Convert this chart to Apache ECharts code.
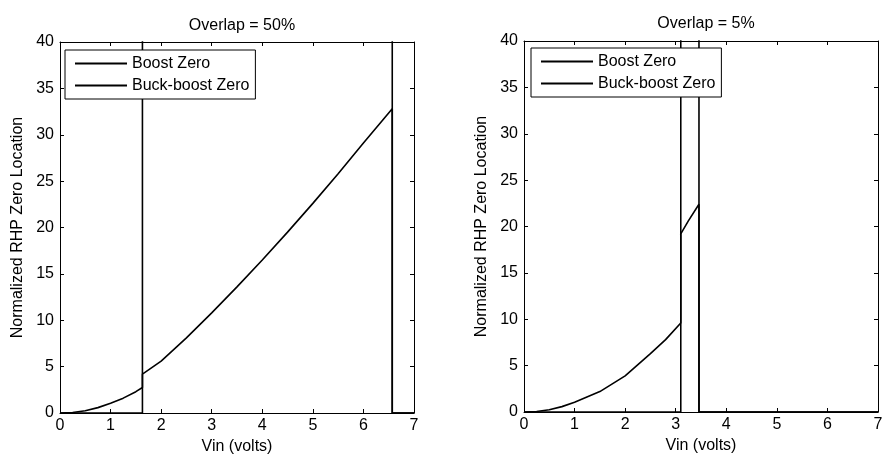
<!DOCTYPE html>
<html>
<head>
<meta charset="utf-8">
<script src="https://cdn.jsdelivr.net/npm/echarts@6/dist/echarts.min.js"></script>
<style>
  html, body { margin: 0; padding: 0; background: #fff; }
  #chart { width: 886px; height: 455px; }
</style>
</head>
<body>
<div id="chart"></div>
<script>
// values; OFF stands for "above the plot" (clipped at 40)
const OFF = 60

// Overlap = 50%
const boost50 = [
  [0, 0], [0.25, 0.05], [0.5, 0.25], [0.75, 0.58], [1, 1.05], [1.25, 1.6],
  [1.5, 2.3], [1.63, 2.75], [1.63, OFF], [6.57, OFF], [6.57, 0], [7, 0]
]
const buckBoost50 = [
  [0, 0], [1.63, 0], [1.63, 4.2], [2, 5.6], [2.5, 8.1], [3, 10.8], [3.5, 13.6],
  [4, 16.5], [4.5, 19.5], [5, 22.6], [5.5, 25.8], [6, 29.1], [6.57, 32.8],
  [6.57, 0], [7, 0]
]

// Overlap = 5%
const boost5 = [
  [0, 0], [0.25, 0.05], [0.5, 0.25], [0.75, 0.58], [1, 1.04], [1.5, 2.2],
  [2, 3.9], [2.5, 6.3], [2.8, 7.8], [3.1, 9.6], [3.1, OFF], [3.46, OFF],
  [3.46, 0], [7, 0]
]
const buckBoost5 = [
  [0, 0], [3.1, 0], [3.1, 19.2], [3.25, 20.6], [3.46, 22.4], [3.46, 0], [7, 0]
]

const titles = ['Overlap = 50%', 'Overlap = 5%']
const seriesNames = ['Boost Zero', 'Buck-boost Zero']
const xTicks = { min: 0, max: 7, interval: 1 }
const yTicks = { min: 0, max: 40, interval: 5 }

const font = 'Liberation Sans, Arial, sans-serif'
const black = '#000'

const grids = [
  { left: 60, top: 42, width: 354, height: 371, outerBoundsMode: 'none' },
  { left: 524, top: 41, width: 354, height: 371, outerBoundsMode: 'none' }
]

const tick = { show: true, inside: true, length: 4, lineStyle: { color: black } }
const axisLine = { show: true, onZero: false, lineStyle: { color: black, width: 1 } }

const mainX = (i) => ({
  type: 'value', gridIndex: i, ...xTicks,
  name: 'Vin (volts)', nameLocation: 'middle', nameGap: 24,
  nameTextStyle: { color: black, fontSize: 16, fontFamily: font },
  axisLine, axisTick: tick,
  axisLabel: { color: black, fontSize: 16, fontFamily: font, margin: 5 },
  splitLine: { show: false }
})
const topX = (i) => ({
  type: 'value', gridIndex: i, position: 'top', ...xTicks,
  axisLine, axisTick: tick,
  axisLabel: { show: false },
  splitLine: { show: false }
})
const mainY = (i) => ({
  type: 'value', gridIndex: i, ...yTicks,
  name: 'Normalized RHP Zero Location', nameLocation: 'middle', nameGap: 34,
  nameTextStyle: { color: black, fontSize: 16, fontFamily: font },
  axisLine, axisTick: tick,
  axisLabel: { color: black, fontSize: 16, fontFamily: font, margin: 6 },
  splitLine: { show: false }
})
const rightY = (i) => ({
  type: 'value', gridIndex: i, position: 'right', ...yTicks,
  axisLine, axisTick: tick,
  axisLabel: { show: false },
  splitLine: { show: false }
})

const line = (name, data, axis) => ({
  name, type: 'line', data,
  xAxisIndex: axis, yAxisIndex: axis,
  symbol: 'none', clip: true, animation: false,
  lineStyle: { color: black, width: 1.6 },
  itemStyle: { color: black }
})

const legend = (left, top) => ({
  data: seriesNames, orient: 'vertical', left, top,
  icon: 'rect', itemWidth: 52, itemHeight: 2, itemGap: 3,
  padding: [4, 6, 4, 10],
  borderColor: black, borderWidth: 1, backgroundColor: '#fff',
  selectedMode: false,
  textStyle: { color: black, fontSize: 16, fontFamily: font, lineHeight: 19 }
})

const chart = echarts.init(document.getElementById('chart'))
chart.setOption({
  backgroundColor: '#fff',
  title: [
    { text: titles[0], left: 237, top: 13, textAlign: 'center',
      textStyle: { color: black, fontSize: 16, fontWeight: 'normal', fontFamily: font } },
    { text: titles[1], left: 701, top: 11, textAlign: 'center',
      textStyle: { color: black, fontSize: 16, fontWeight: 'normal', fontFamily: font } }
  ],
  legend: [legend(65, 50), legend(531, 48)],
  grid: grids,
  xAxis: [mainX(0), mainX(1), topX(0), topX(1)],
  yAxis: [mainY(0), mainY(1), rightY(0), rightY(1)],
  series: [
    line(seriesNames[0], boost50, 0),
    line(seriesNames[1], buckBoost50, 0),
    line(seriesNames[0], boost5, 1),
    line(seriesNames[1], buckBoost5, 1)
  ]
})
</script>
</body>
</html>
